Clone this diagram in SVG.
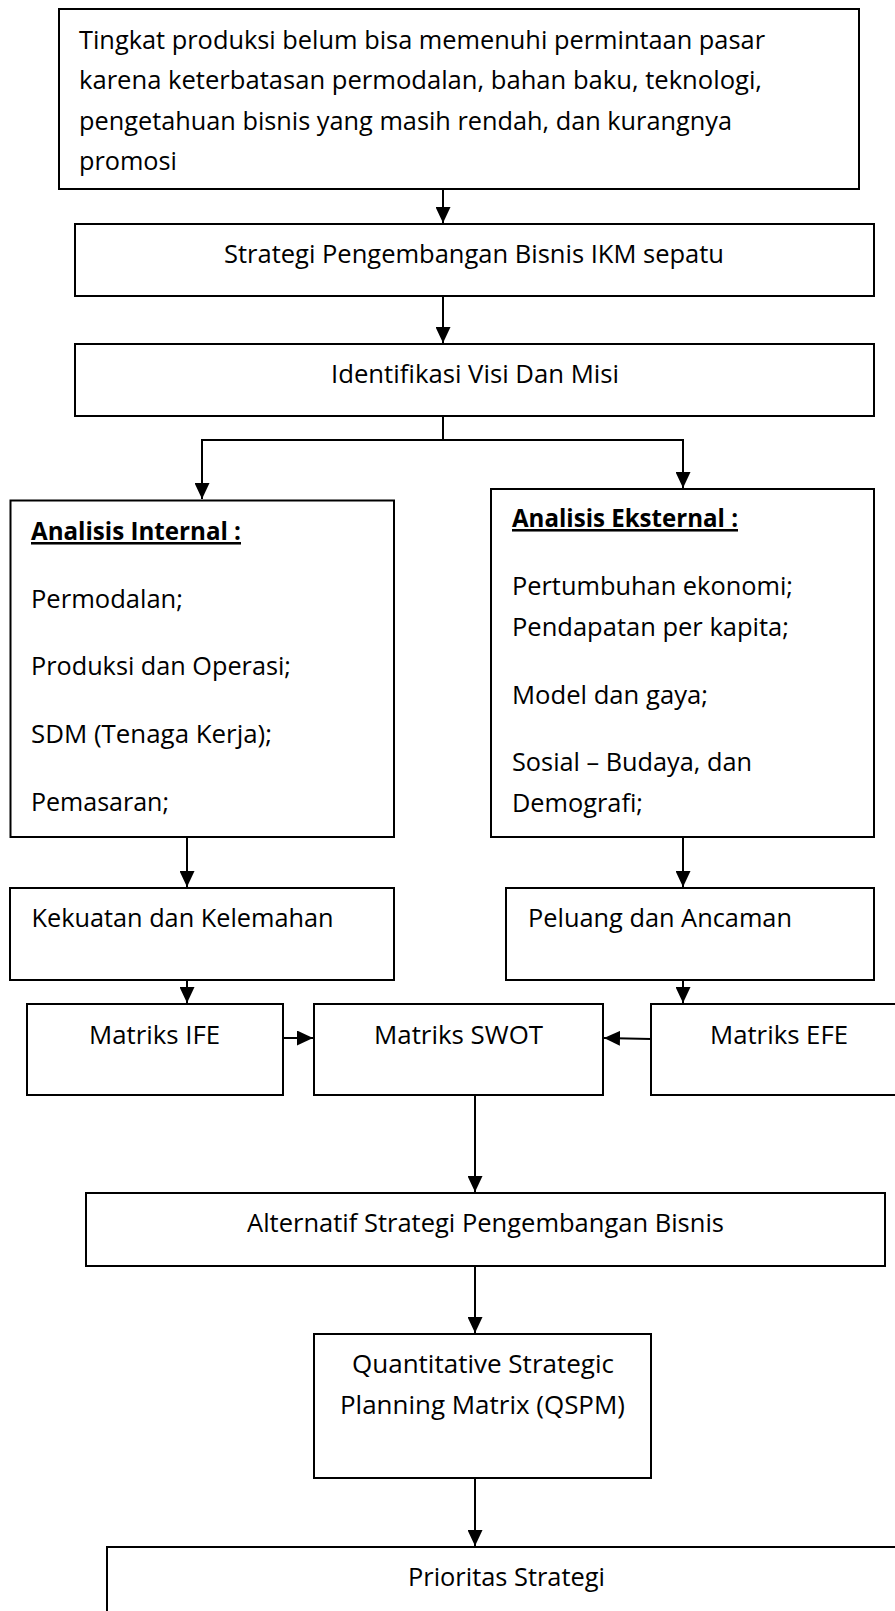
<svg xmlns="http://www.w3.org/2000/svg" width="895" height="1611" viewBox="0 0 895 1611">
<style>
.box{fill:#fff;stroke:#000;stroke-width:2}
.t{font-family:"Open Sans","Noto Sans","Liberation Sans",sans-serif;font-size:25.4px;fill:#000}
.b{font-weight:bold;text-decoration:underline}
.c{fill:none;stroke:#000;stroke-width:2}
</style>
<defs>
<marker id="ah" markerUnits="userSpaceOnUse" markerWidth="16" markerHeight="15" viewBox="0 0 16 15" refX="16" refY="7.5" orient="auto">
<path d="M0,0 L16,7.5 L0,15 z" fill="#000"/>
</marker>
</defs>
<rect width="895" height="1611" fill="#fff"/>
<g id="connectors">
<path class="c" d="M443,189 V223" marker-end="url(#ah)"/>
<path class="c" d="M443,296 V343" marker-end="url(#ah)"/>
<path class="c" d="M443,416 V440"/>
<path class="c" d="M443,440 H202 V499" marker-end="url(#ah)"/>
<path class="c" d="M443,440 H683 V488" marker-end="url(#ah)"/>
<path class="c" d="M187,837 V887" marker-end="url(#ah)"/>
<path class="c" d="M683,837 V887" marker-end="url(#ah)"/>
<path class="c" d="M187,980 V1003" marker-end="url(#ah)"/>
<path class="c" d="M683,980 V1003" marker-end="url(#ah)"/>
<path class="c" d="M283,1038 H313" marker-end="url(#ah)"/>
<path class="c" d="M651,1039 L604,1038" marker-end="url(#ah)"/>
<path class="c" d="M475,1095 V1192" marker-end="url(#ah)"/>
<path class="c" d="M475,1266 V1333" marker-end="url(#ah)"/>
<path class="c" d="M475,1478 V1546" marker-end="url(#ah)"/>
</g>
<g id="n-problem">
<rect class="box" x="59" y="9" width="800" height="180"/>
<text class="t" x="79" y="48.5" textLength="686" lengthAdjust="spacingAndGlyphs">Tingkat produksi belum bisa memenuhi permintaan pasar</text>
<text class="t" x="79" y="89" textLength="683" lengthAdjust="spacingAndGlyphs">karena keterbatasan permodalan, bahan baku, teknologi,</text>
<text class="t" x="79" y="129.5" textLength="653" lengthAdjust="spacingAndGlyphs">pengetahuan bisnis yang masih rendah, dan kurangnya</text>
<text class="t" x="79" y="170" textLength="98" lengthAdjust="spacingAndGlyphs">promosi</text>
</g>
<g id="n-strategi">
<rect class="box" x="75" y="224" width="799" height="72"/>
<text class="t" x="224" y="263" textLength="500" lengthAdjust="spacingAndGlyphs">Strategi Pengembangan Bisnis IKM sepatu</text>
</g>
<g id="n-visi">
<rect class="box" x="75" y="344" width="799" height="72"/>
<text class="t" x="331" y="383" textLength="288" lengthAdjust="spacingAndGlyphs">Identifikasi Visi Dan Misi</text>
</g>
<g id="n-internal">
<rect class="box" x="10.5" y="500.5" width="383.5" height="336.5"/>
<text class="t b" x="31" y="540" textLength="210" lengthAdjust="spacingAndGlyphs">Analisis Internal :</text>
<text class="t" x="31" y="608" textLength="152" lengthAdjust="spacingAndGlyphs">Permodalan;</text>
<text class="t" x="31" y="675" textLength="260" lengthAdjust="spacingAndGlyphs">Produksi dan Operasi;</text>
<text class="t" x="31" y="743" textLength="241" lengthAdjust="spacingAndGlyphs">SDM (Tenaga Kerja);</text>
<text class="t" x="31" y="811" textLength="138" lengthAdjust="spacingAndGlyphs">Pemasaran;</text>
</g>
<g id="n-eksternal">
<rect class="box" x="491" y="489" width="383" height="348"/>
<text class="t b" x="512" y="527" textLength="226" lengthAdjust="spacingAndGlyphs">Analisis Eksternal :</text>
<text class="t" x="512" y="595" textLength="281" lengthAdjust="spacingAndGlyphs">Pertumbuhan ekonomi;</text>
<text class="t" x="512" y="636" textLength="277" lengthAdjust="spacingAndGlyphs">Pendapatan per kapita;</text>
<text class="t" x="512" y="704" textLength="196" lengthAdjust="spacingAndGlyphs">Model dan gaya;</text>
<text class="t" x="512" y="771" textLength="240" lengthAdjust="spacingAndGlyphs">Sosial – Budaya, dan</text>
<text class="t" x="512" y="812" textLength="131" lengthAdjust="spacingAndGlyphs">Demografi;</text>
</g>
<g id="n-kekuatan">
<rect class="box" x="10" y="888" width="384" height="92"/>
<text class="t" x="31.5" y="927" textLength="302" lengthAdjust="spacingAndGlyphs">Kekuatan dan Kelemahan</text>
</g>
<g id="n-peluang">
<rect class="box" x="506" y="888" width="368" height="92"/>
<text class="t" x="528" y="927" textLength="264" lengthAdjust="spacingAndGlyphs">Peluang dan Ancaman</text>
</g>
<g id="n-ife">
<rect class="box" x="27" y="1004" width="256" height="91"/>
<text class="t" x="89" y="1044" textLength="131" lengthAdjust="spacingAndGlyphs">Matriks IFE</text>
</g>
<g id="n-swot">
<rect class="box" x="314" y="1004" width="289" height="91"/>
<text class="t" x="374" y="1044" textLength="169" lengthAdjust="spacingAndGlyphs">Matriks SWOT</text>
</g>
<g id="n-efe">
<rect class="box" x="651" y="1004" width="260" height="91"/>
<text class="t" x="710" y="1044" textLength="138" lengthAdjust="spacingAndGlyphs">Matriks EFE</text>
</g>
<g id="n-alternatif">
<rect class="box" x="86" y="1193" width="799" height="73"/>
<text class="t" x="247" y="1232" textLength="477" lengthAdjust="spacingAndGlyphs">Alternatif Strategi Pengembangan Bisnis</text>
</g>
<g id="n-qspm">
<rect class="box" x="314" y="1334" width="337" height="144"/>
<text class="t" x="352" y="1373" textLength="262" lengthAdjust="spacingAndGlyphs">Quantitative Strategic</text>
<text class="t" x="340" y="1414" textLength="285" lengthAdjust="spacingAndGlyphs">Planning Matrix (QSPM)</text>
</g>
<g id="n-prioritas">
<rect class="box" x="107" y="1547" width="805" height="80"/>
<text class="t" x="408" y="1586" textLength="197" lengthAdjust="spacingAndGlyphs">Prioritas Strategi</text>
</g>
</svg>
